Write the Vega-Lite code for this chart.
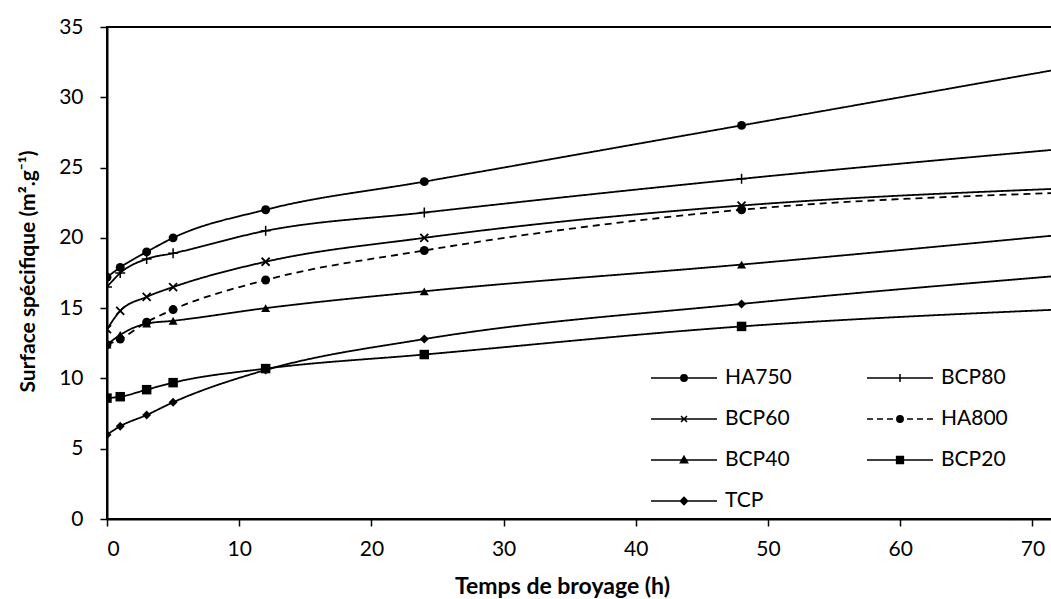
{
  "$schema": "https://vega.github.io/schema/vega-lite/v6.json",
  "autosize": "none",
  "width": 950,
  "height": 492,
  "padding": {"left": 107, "top": 27, "right": 0, "bottom": 80},
  "background": "white",
  "config": {
    "font": "Lato",
    "view": {"stroke": "black", "strokeWidth": 2},
    "axis": {
      "domainColor": "black", "domainWidth": 2, "tickColor": "black", "tickWidth": 1.5,
      "tickSize": 7, "labelColor": "black", "labelFontSize": 21, "labelFont": "Lato",
      "titleColor": "black", "titleFontSize": 23, "titleFont": "Lato", "titleFontWeight": "bold", "grid": false
    }
  },
  "data": {"values": [
    {"series": "HA750", "t": 0, "v": 17.2}, {"series": "HA750", "t": 1, "v": 17.9}, {"series": "HA750", "t": 3, "v": 19.0}, {"series": "HA750", "t": 5, "v": 20.0}, {"series": "HA750", "t": 12, "v": 22.0}, {"series": "HA750", "t": 24, "v": 24.0}, {"series": "HA750", "t": 48, "v": 28.0}, {"series": "HA750", "t": 72, "v": 32.0},
    {"series": "BCP80", "t": 0, "v": 16.5}, {"series": "BCP80", "t": 1, "v": 17.5}, {"series": "BCP80", "t": 3, "v": 18.5}, {"series": "BCP80", "t": 5, "v": 18.9}, {"series": "BCP80", "t": 12, "v": 20.5}, {"series": "BCP80", "t": 24, "v": 21.8}, {"series": "BCP80", "t": 48, "v": 24.2}, {"series": "BCP80", "t": 72, "v": 26.3},
    {"series": "BCP60", "t": 0, "v": 13.5}, {"series": "BCP60", "t": 1, "v": 14.8}, {"series": "BCP60", "t": 3, "v": 15.8}, {"series": "BCP60", "t": 5, "v": 16.5}, {"series": "BCP60", "t": 12, "v": 18.3}, {"series": "BCP60", "t": 24, "v": 20.0}, {"series": "BCP60", "t": 48, "v": 22.3}, {"series": "BCP60", "t": 72, "v": 23.5},
    {"series": "HA800", "t": 0, "v": 12.4}, {"series": "HA800", "t": 1, "v": 12.8}, {"series": "HA800", "t": 3, "v": 14.0}, {"series": "HA800", "t": 5, "v": 14.9}, {"series": "HA800", "t": 12, "v": 17.0}, {"series": "HA800", "t": 24, "v": 19.1}, {"series": "HA800", "t": 48, "v": 22.0}, {"series": "HA800", "t": 72, "v": 23.2},
    {"series": "BCP40", "t": 0, "v": 12.4}, {"series": "BCP40", "t": 1, "v": 13.1}, {"series": "BCP40", "t": 3, "v": 13.9}, {"series": "BCP40", "t": 5, "v": 14.1}, {"series": "BCP40", "t": 12, "v": 15.0}, {"series": "BCP40", "t": 24, "v": 16.2}, {"series": "BCP40", "t": 48, "v": 18.1}, {"series": "BCP40", "t": 72, "v": 20.2},
    {"series": "BCP20", "t": 0, "v": 8.6}, {"series": "BCP20", "t": 1, "v": 8.7}, {"series": "BCP20", "t": 3, "v": 9.2}, {"series": "BCP20", "t": 5, "v": 9.7}, {"series": "BCP20", "t": 12, "v": 10.7}, {"series": "BCP20", "t": 24, "v": 11.7}, {"series": "BCP20", "t": 48, "v": 13.7}, {"series": "BCP20", "t": 72, "v": 14.9},
    {"series": "TCP", "t": 0, "v": 6.0}, {"series": "TCP", "t": 1, "v": 6.6}, {"series": "TCP", "t": 3, "v": 7.4}, {"series": "TCP", "t": 5, "v": 8.3}, {"series": "TCP", "t": 12, "v": 10.6}, {"series": "TCP", "t": 24, "v": 12.8}, {"series": "TCP", "t": 48, "v": 15.3}, {"series": "TCP", "t": 72, "v": 17.3}
  ]},
  "encoding": {
    "x": {"field": "t", "type": "quantitative", "scale": {"domain": [0, 71.86], "nice": false},
      "axis": {"values": [0, 10, 20, 30, 40, 50, 60, 70], "title": "Temps de broyage (h)", "labelPadding": 12, "titlePadding": 16, "titleX": 455, "titleAlign": "center"}},
    "y": {"field": "v", "type": "quantitative", "scale": {"domain": [0, 35], "nice": false},
      "axis": {"values": [0, 5, 10, 15, 20, 25, 30, 35], "title": "Surface spécifique (m².g⁻¹)", "titleFontSize": 21, "labelPadding": 17, "titlePadding": 20, "titleY": 244, "titleAlign": "center"}}
  },
  "layer": [
    {
      "mark": {"type": "line", "interpolate": "monotone", "clip": true, "color": "black", "strokeWidth": 1.8},
      "encoding": {
        "detail": {"field": "series", "type": "nominal"},
        "strokeDash": {"field": "series", "type": "nominal",
          "scale": {"domain": ["HA750", "BCP80", "BCP60", "HA800", "BCP40", "BCP20", "TCP"], "range": [[1, 0], [1, 0], [1, 0], [7, 5], [1, 0], [1, 0], [1, 0]]},
          "legend": null}
      }
    },
    {"transform": [{"filter": "datum.series === 'HA750' || datum.series === 'HA800'"}],
     "mark": {"type": "point", "shape": "circle", "filled": true, "clip": true, "color": "black", "opacity": 1, "size": 80}},
    {"transform": [{"filter": "datum.series === 'BCP80'"}],
     "mark": {"type": "point", "shape": "M-1,0L1,0M0,-1L0,1", "filled": false, "clip": true, "color": "black", "strokeWidth": 1.5, "opacity": 1, "size": 100}},
    {"transform": [{"filter": "datum.series === 'BCP60'"}],
     "mark": {"type": "point", "shape": "M-0.8,-0.8L0.8,0.8M-0.8,0.8L0.8,-0.8", "filled": false, "clip": true, "color": "black", "strokeWidth": 1.8, "opacity": 1, "size": 100}},
    {"transform": [{"filter": "datum.series === 'BCP40'"}],
     "mark": {"type": "point", "shape": "triangle-up", "filled": true, "clip": true, "color": "black", "opacity": 1, "size": 80}},
    {"transform": [{"filter": "datum.series === 'BCP20'"}],
     "mark": {"type": "point", "shape": "square", "filled": true, "clip": true, "color": "black", "opacity": 1, "size": 90}},
    {"transform": [{"filter": "datum.series === 'TCP'"}],
     "mark": {"type": "point", "shape": "diamond", "filled": true, "clip": true, "color": "black", "opacity": 1, "size": 80}},
    {
      "mark": {"type": "point", "filled": false, "clip": true, "color": "black", "strokeWidth": 1.5, "opacity": 0},
      "encoding": {
        "shape": {"field": "series", "type": "nominal",
          "scale": {"domain": ["HA750", "BCP60", "BCP40", "TCP", "BCP80", "HA800", "BCP20"],
            "range": [
              "M-3.3,0L3.3,0M0.32,0A0.32,0.32 0 1,1 -0.32,0A0.32,0.32 0 1,1 0.32,0M0.2,0A0.2,0.2 0 1,1 -0.2,0A0.2,0.2 0 1,1 0.2,0M0.08,0A0.08,0.08 0 1,1 -0.08,0A0.08,0.08 0 1,1 0.08,0",
              "M-3.3,0L3.3,0M-0.3,-0.3L0.3,0.3M-0.3,0.3L0.3,-0.3",
              "M-3.3,0L3.3,0M0,-0.36L0.36,0.28L-0.36,0.28ZM0,-0.2L0.2,0.16L-0.2,0.16ZM0,-0.06L0.06,0.05L-0.06,0.05Z",
              "M-3.3,0L3.3,0M0,-0.36L0.36,0L0,0.36L-0.36,0ZM0,-0.22L0.22,0L0,0.22L-0.22,0ZM0,-0.08L0.08,0L0,0.08L-0.08,0Z",
              "M-3.3,0L3.3,0M0,-0.4L0,0.4",
              "M-3.3,0L-2.7,0M-2.3,0L-1.7,0M-1.3,0L-0.7,0M0.7,0L1.3,0M1.7,0L2.3,0M2.7,0L3.3,0M0.32,0A0.32,0.32 0 1,1 -0.32,0A0.32,0.32 0 1,1 0.32,0M0.2,0A0.2,0.2 0 1,1 -0.2,0A0.2,0.2 0 1,1 0.2,0M0.08,0A0.08,0.08 0 1,1 -0.08,0A0.08,0.08 0 1,1 0.08,0",
              "M-3.3,0L3.3,0M-0.34,-0.34L0.34,-0.34L0.34,0.34L-0.34,0.34ZM-0.2,-0.2L0.2,-0.2L0.2,0.2L-0.2,0.2ZM-0.06,-0.06L0.06,-0.06L0.06,0.06L-0.06,0.06Z"
            ]},
          "legend": {
            "title": null, "orient": "none", "legendX": 566, "legendY": 340, "columns": 2,
            "symbolSize": 400, "symbolFillColor": "black", "symbolStrokeColor": "black", "symbolStrokeWidth": 1.5,
            "symbolOpacity": 1, "labelFontSize": 21, "labelFont": "Lato", "labelColor": "black",
            "labelOffset": 30, "columnPadding": 72, "rowPadding": 20, "padding": 0,
            "encode": {"symbols": {"update": {"opacity": {"value": 1}, "stroke": {"value": "black"}, "strokeOpacity": {"value": 1}, "strokeWidth": {"value": 1.5}}}}
          }}
      }
    }
  ]
}
